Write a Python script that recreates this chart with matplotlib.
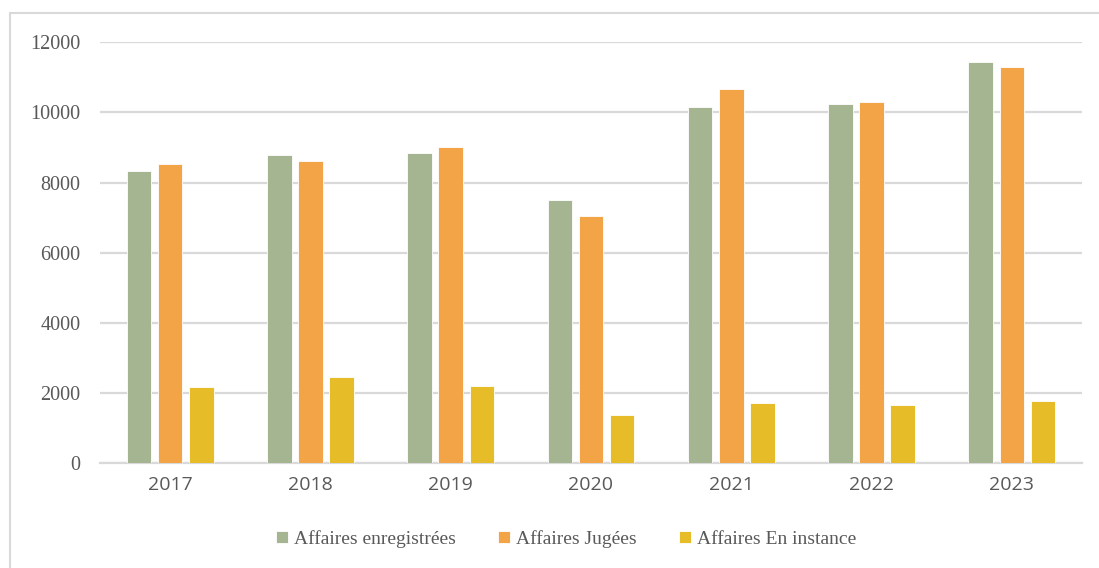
import numpy as np
import matplotlib.pyplot as plt
from matplotlib.patches import Rectangle

years = ['2017', '2018', '2019', '2020', '2021', '2022', '2023']
enregistrees = [8330, 8790, 8850, 7500, 10160, 10230, 11420]
jugees = [8540, 8620, 9000, 7060, 10650, 10280, 11300]
en_instance = [2190, 2450, 2215, 1390, 1725, 1675, 1790]

labels = ['Affaires enregistrées', 'Affaires Jugées', 'Affaires En instance']
colors = ['#A5B592', '#F3A447', '#E6BC29']

fig = plt.figure(figsize=(10.99, 5.68), dpi=100)
ax = fig.add_axes([0.091, 0.184, 0.8935, 0.742])

x = np.arange(len(years))
w = 0.175
step = 0.222
for i, (vals, lab, c) in enumerate(zip([enregistrees, jugees, en_instance], labels, colors)):
    ax.bar(x + (i - 1) * step, vals, width=w, color=c, label=lab,
           edgecolor='white', linewidth=0.6, zorder=3)

ax.set_xlim(-0.5, len(years) - 0.5)
ax.set_ylim(0, 12000)
ax.set_yticks(range(0, 12001, 2000))
ax.set_xticks(x)
ax.set_xticklabels(years, fontsize=14, color='#595959', family='Open Sans')
ax.set_yticklabels([str(v) for v in range(0, 12001, 2000)], fontsize=14.5,
                   color='#595959', family='Liberation Serif')
ax.grid(axis='y', color='#D9D9D9', linewidth=1.6, zorder=0)
for s in ['top', 'right', 'left']:
    ax.spines[s].set_visible(False)
ax.spines['bottom'].set_color('#D9D9D9')
ax.spines['bottom'].set_linewidth(1.6)
ax.tick_params(axis='both', length=0)
ax.tick_params(axis='x', pad=9)
ax.tick_params(axis='y', pad=14)

leg = fig.legend(loc='center', bbox_to_anchor=(0.515, 0.051), ncol=3, frameon=False,
                 prop={'family': 'Liberation Serif', 'size': 14},
                 handlelength=0.6, handleheight=0.6, handletextpad=0.3,
                 columnspacing=2.2, labelcolor='#595959')

fig.patches.append(Rectangle((10 / 1099, -0.1), 1.2, 1 - 13 / 568 + 0.1,
                             transform=fig.transFigure, fill=False,
                             edgecolor='#D9D9D9', linewidth=1.5))

fig.savefig('out.png', dpi=100)
